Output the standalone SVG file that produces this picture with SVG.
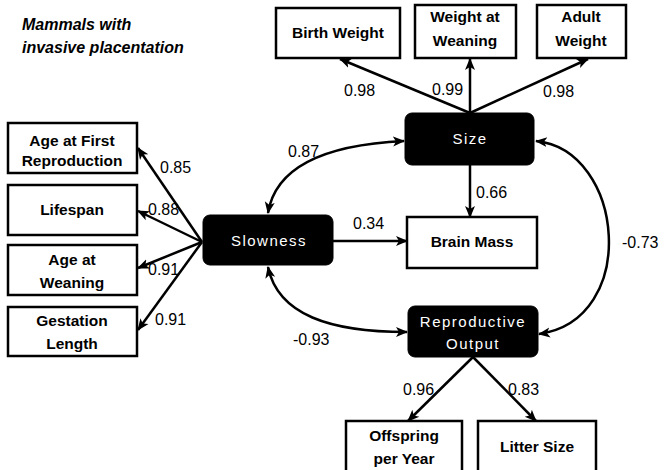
<svg xmlns="http://www.w3.org/2000/svg" width="665" height="470" viewBox="0 0 665 470">
<style>
.box{fill:#fff;stroke:#000;stroke-width:2.5}
.lat{fill:#000;stroke:#000;stroke-width:1}
.bt{font-family:"Liberation Sans",Arial,sans-serif;font-weight:bold;font-size:15.5px;fill:#000;text-anchor:middle}
.wt{font-family:"Liberation Sans",Arial,sans-serif;font-size:15px;letter-spacing:1.5px;fill:#fff;text-anchor:middle}
.lbl{font-family:"Liberation Sans",Arial,sans-serif;font-size:16px;fill:#000}
.ttl{font-family:"Liberation Sans",Arial,sans-serif;font-weight:bold;font-style:italic;font-size:16px;fill:#000}
.c{stroke:#000;stroke-width:2.5;fill:none}
</style>
<defs>
<marker id="ah" markerUnits="userSpaceOnUse" markerWidth="12" markerHeight="12" viewBox="0 0 12 12" refX="11" refY="6" orient="auto-start-reverse">
<path d="M0,1 L12,6 L0,11 L3,6 Z" fill="#000"/>
</marker>
</defs>
<g id="title">
<text class="ttl" x="22" y="30">Mammals with</text>
<text class="ttl" x="22" y="53">invasive placentation</text>
</g>
<g id="connectors">
<line class="c" x1="470" y1="113" x2="340" y2="59" marker-end="url(#ah)"/>
<line class="c" x1="470" y1="113" x2="470" y2="59" marker-end="url(#ah)"/>
<line class="c" x1="470" y1="113" x2="588" y2="59" marker-end="url(#ah)"/>
<line class="c" x1="202" y1="242" x2="138" y2="148" marker-end="url(#ah)"/>
<line class="c" x1="202" y1="242" x2="138" y2="211" marker-end="url(#ah)"/>
<line class="c" x1="202" y1="242" x2="138" y2="268" marker-end="url(#ah)"/>
<line class="c" x1="202" y1="242" x2="138" y2="330" marker-end="url(#ah)"/>
<line class="c" x1="333" y1="241" x2="407" y2="241" marker-end="url(#ah)"/>
<line class="c" x1="470" y1="165" x2="470" y2="217" marker-end="url(#ah)"/>
<line class="c" x1="473" y1="357" x2="408" y2="421" marker-end="url(#ah)"/>
<line class="c" x1="473" y1="357" x2="536" y2="421" marker-end="url(#ah)"/>
<path class="c" d="M268,213 C275,170 320,145 404,141" marker-start="url(#ah)" marker-end="url(#ah)"/>
<path class="c" d="M268,267 C278,315 330,332 407,332" marker-start="url(#ah)" marker-end="url(#ah)"/>
<path class="c" d="M536,141 C625,150 640,320 539,334" marker-start="url(#ah)" marker-end="url(#ah)"/>
<text class="lbl" x="344" y="96">0.98</text>
<text class="lbl" x="432" y="95">0.99</text>
<text class="lbl" x="543" y="97">0.98</text>
<text class="lbl" x="160" y="173">0.85</text>
<text class="lbl" x="148" y="215">0.88</text>
<text class="lbl" x="148" y="275">0.91</text>
<text class="lbl" x="155" y="325">0.91</text>
<text class="lbl" x="288" y="157">0.87</text>
<text class="lbl" x="353" y="229">0.34</text>
<text class="lbl" x="476" y="198">0.66</text>
<text class="lbl" x="622" y="248">-0.73</text>
<text class="lbl" x="293" y="345">-0.93</text>
<text class="lbl" x="403" y="395">0.96</text>
<text class="lbl" x="508" y="395">0.83</text>
</g>
<g id="birth-weight"><rect class="box" x="276" y="8" width="124" height="50"/><text class="bt" x="338" y="38">Birth Weight</text></g>
<g id="weight-at-weaning"><rect class="box" x="415" y="5" width="101" height="53"/><text class="bt" x="465" y="22">Weight at</text><text class="bt" x="465" y="46">Weaning</text></g>
<g id="adult-weight"><rect class="box" x="537" y="5" width="89" height="53"/><text class="bt" x="581" y="22">Adult</text><text class="bt" x="581" y="46">Weight</text></g>
<g id="size"><rect class="lat" x="405" y="113" width="129" height="52" rx="7"/><text class="wt" x="470" y="144">Size</text></g>
<g id="age-first-reproduction"><rect class="box" x="8" y="123" width="129" height="50"/><text class="bt" x="72" y="146">Age at First</text><text class="bt" x="72" y="166">Reproduction</text></g>
<g id="lifespan"><rect class="box" x="8" y="185" width="129" height="50"/><text class="bt" x="72" y="215">Lifespan</text></g>
<g id="age-at-weaning"><rect class="box" x="8" y="245" width="129" height="50"/><text class="bt" x="72" y="265">Age at</text><text class="bt" x="72" y="288">Weaning</text></g>
<g id="gestation-length"><rect class="box" x="8" y="307" width="129" height="49"/><text class="bt" x="72" y="326">Gestation</text><text class="bt" x="72" y="349">Length</text></g>
<g id="slowness"><rect class="lat" x="203" y="215" width="130" height="50" rx="7"/><text class="wt" x="269" y="246">Slowness</text></g>
<g id="brain-mass"><rect class="box" x="407" y="217" width="130" height="51"/><text class="bt" x="472" y="247">Brain Mass</text></g>
<g id="reproductive-output"><rect class="lat" x="408" y="306" width="130" height="51" rx="7"/><text class="wt" x="473" y="327">Reproductive</text><text class="wt" x="473" y="349">Output</text></g>
<g id="offspring-per-year"><rect class="box" x="346" y="421" width="116" height="56"/><text class="bt" x="404" y="441">Offspring</text><text class="bt" x="404" y="464">per Year</text></g>
<g id="litter-size"><rect class="box" x="478" y="421" width="118" height="56"/><text class="bt" x="537" y="452">Litter Size</text></g>
</svg>
